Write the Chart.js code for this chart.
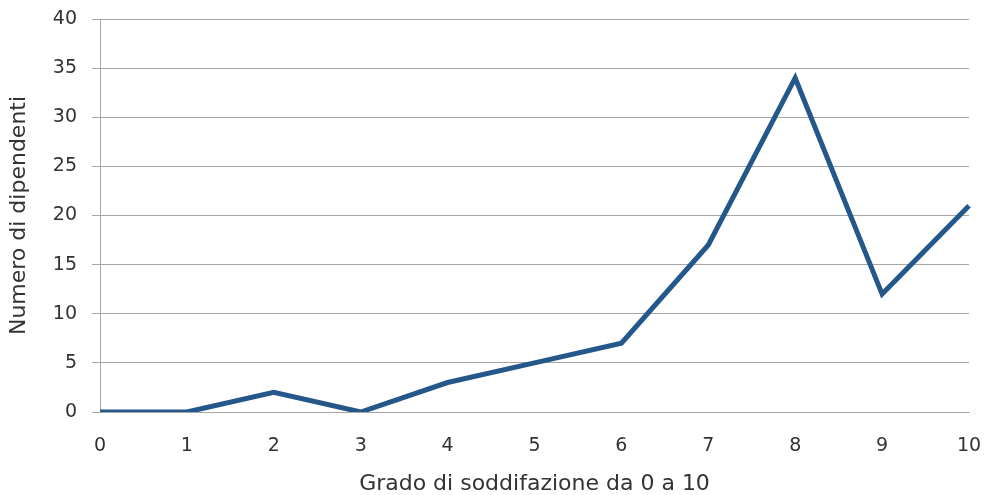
<!DOCTYPE html>
<html>
<head>
<meta charset="utf-8">
<script src="https://cdn.jsdelivr.net/npm/chart.js@4/dist/chart.umd.min.js"></script>
<style>
  html, body { margin: 0; padding: 0; background: #fff; }
  #wrap { width: 985px; height: 495px; position: relative; }
</style>
</head>
<body>
<div id="wrap"><canvas id="chart"></canvas></div>
<script>
// grado di soddisfazione (0-10) e numero di dipendenti
const gradi = ['0', '1', '2', '3', '4', '5', '6', '7', '8', '9', '10'];
const dipendenti = [0, 0, 2, 0, 3, 5, 7, 17, 34, 12, 21];

const yMin = 0;
const yMax = 40;
const yStep = 5;

const tickFont = { family: "'DejaVu Sans', sans-serif", size: 19 };
const titleFont = { family: "'DejaVu Sans', sans-serif", size: 22, lineHeight: 1 };
const textColor = '#333333';
const gridColor = '#a6a6a6';

const ctx = document.getElementById('chart').getContext('2d');
new Chart(ctx, {
    type: 'line',
    data: {
        labels: gradi,
        datasets: [{
            data: dipendenti,
            borderColor: '#24578a',
            borderWidth: 5,
            borderJoinStyle: 'miter',
            pointRadius: 0,
            tension: 0,
            fill: false
        }]
    },
    options: {
        responsive: true,
        maintainAspectRatio: false,
        animation: false,
        layout: { padding: { top: 19, right: 16, bottom: 0, left: 0 } },
        plugins: { legend: { display: false }, tooltip: { enabled: false } },
        scales: {
            x: {
                offset: false,
                grid: { display: false },
                border: { display: true, color: gridColor, width: 1 },
                ticks: { color: textColor, font: tickFont, padding: 15, maxRotation: 0 },
                title: {
                    display: true,
                    text: 'Grado di soddifazione da 0 a 10',
                    color: textColor,
                    font: titleFont,
                    padding: { top: 0, bottom: 0 }
                },
                // fixed axis band, no extra overflow padding from the end labels
                afterFit: scale => {
                    scale.height = 83;
                    scale.paddingLeft = 0;
                    scale.paddingRight = 0;
                }
            },
            y: {
                min: yMin,
                max: yMax,
                grid: { color: gridColor, lineWidth: 1, drawTicks: true, tickLength: 8 },
                border: { display: true, color: gridColor, width: 1 },
                ticks: { stepSize: yStep, color: textColor, font: tickFont, padding: 15 },
                title: {
                    display: true,
                    text: 'Numero di dipendenti',
                    color: textColor,
                    font: titleFont,
                    padding: { top: 8, bottom: 0 }
                },
                afterFit: scale => {
                    scale.width = 100;
                    scale.paddingTop = 0;
                    scale.paddingBottom = 0;
                }
            }
        }
    }
});
</script>
</body>
</html>
